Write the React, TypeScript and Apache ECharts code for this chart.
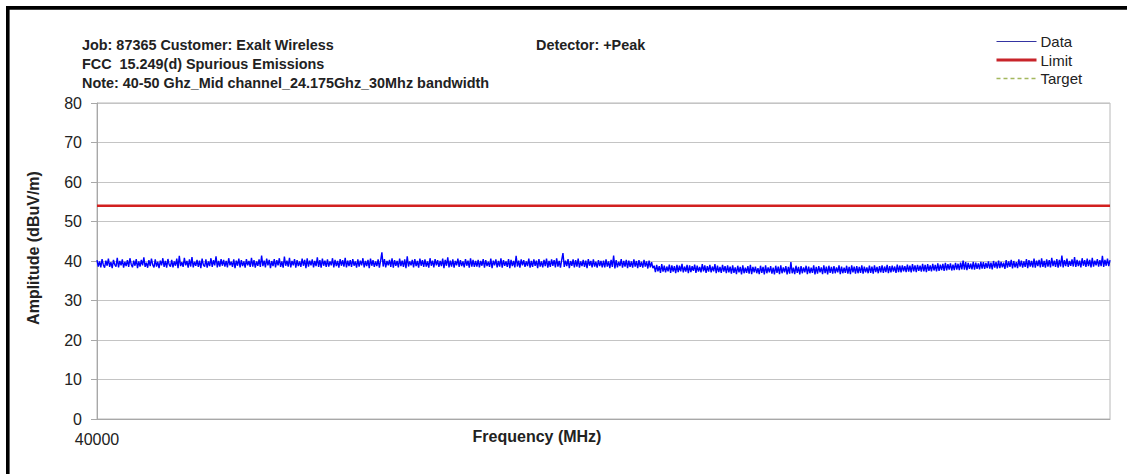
import React, { useEffect, useRef } from "react";
import * as echarts from "echarts";

// ---- Data ----
const FREQ_START = 40000; // MHz
const FREQ_STOP = 50000; // MHz
const LIMIT_LEVEL = 54; // dBuV/m

const HEADER_LINES = [
  "Job: 87365 Customer: Exalt Wireless",
  "FCC  15.249(d) Spurious Emissions",
  "Note: 40-50 Ghz_Mid channel_24.175Ghz_30Mhz bandwidth",
];
const DETECTOR_TEXT = "Detector: +Peak";
const SERIES_NAMES = ["Data", "Limit", "Target"];
const X_LABELS_SHOWN = [40000];

// Measured amplitude (dBuV/m), consecutive sweep points across 40–50 GHz
const AMP_40000_41237 = [
  40.2, 38.6, 39.9, 38.4, 40.5, 39.0, 38.3, 40.1, 38.8, 40.6, 38.5, 39.7, 38.2, 40.3, 39.1, 38.6, 40.8, 38.4, 40.0, 38.9,
  40.4, 38.3, 39.8, 38.7, 40.2, 38.5, 40.7, 39.2, 38.4, 40.1, 38.8, 40.5, 38.2, 39.9, 38.6, 40.3, 38.9, 40.9, 38.5, 39.6,
  38.3, 40.2, 38.7, 40.6, 39.0, 38.4, 40.4, 38.6, 39.8, 38.2, 40.1, 38.9, 40.7, 38.5, 40.0, 38.3, 40.5, 39.1, 38.6, 40.3,
  38.4, 39.9, 38.8, 40.6, 38.2, 41.3, 38.7, 39.7, 38.5, 40.8, 38.9, 40.0, 38.3, 40.4, 38.6, 41.0, 38.4, 39.8, 38.8, 40.3,
  38.5, 40.1, 38.2, 40.6, 39.0, 38.6, 40.4, 38.3, 39.9, 38.7, 40.7, 38.5, 40.2, 38.9, 41.2, 38.4, 40.0, 38.6, 40.5, 38.8,
];
const AMP_41250_42487 = [
  40.3, 38.6, 40.0, 38.4, 40.7, 38.9, 39.8, 38.5, 40.4, 38.2, 40.1, 38.8, 40.6, 38.4, 40.2, 38.7, 39.9, 38.3, 40.5, 38.9,
  40.0, 38.5, 40.8, 38.6, 40.2, 38.3, 39.9, 38.8, 40.4, 38.5, 41.4, 38.7, 40.1, 38.4, 40.6, 38.9, 40.3, 38.2, 40.0, 38.7,
  40.5, 38.4, 40.2, 38.9, 40.7, 38.5, 39.9, 38.3, 41.1, 38.8, 40.1, 38.6, 40.8, 38.4, 40.0, 38.9, 40.5, 38.3, 40.2, 38.7,
  39.9, 38.5, 40.6, 38.8, 40.3, 38.2, 40.7, 38.6, 40.1, 38.9, 40.4, 38.4, 40.0, 38.7, 40.9, 38.5, 40.2, 38.3, 40.6, 38.8,
  40.1, 38.5, 40.4, 38.6, 39.9, 38.9, 40.7, 38.4, 40.3, 38.7, 40.0, 38.3, 40.5, 38.8, 40.2, 38.6, 40.8, 38.4, 40.1, 38.7,
];
const AMP_42500_43737 = [
  40.2, 38.5, 40.5, 38.8, 39.9, 38.3, 40.4, 38.6, 40.1, 38.9, 40.7, 38.4, 40.0, 38.7, 40.3, 38.2, 40.6, 38.8, 40.2, 38.5,
  39.9, 38.7, 40.4, 38.3, 40.1, 42.2, 38.6, 40.5, 38.4, 40.0, 38.9, 40.3, 38.5, 40.7, 38.3, 40.2, 38.8, 40.0, 38.4, 40.6,
  38.7, 40.1, 38.5, 40.4, 38.2, 41.2, 38.6, 39.9, 38.9, 40.3, 38.4, 40.5, 38.7, 40.0, 38.3, 40.6, 38.8, 40.2, 38.5, 40.4,
  38.6, 39.9, 38.3, 40.7, 38.8, 40.1, 38.4, 40.5, 38.9, 40.2, 38.5, 40.0, 38.7, 40.6, 38.2, 40.3, 38.8, 40.9, 38.4, 40.1,
  38.6, 40.4, 38.3, 40.0, 38.9, 40.6, 38.5, 40.2, 38.7, 39.9, 38.4, 40.5, 38.8, 40.1, 38.3, 40.7, 38.6, 40.3, 38.5, 40.0,
];
const AMP_43750_44987 = [
  38.6, 40.3, 38.4, 40.0, 38.8, 40.5, 38.3, 40.2, 38.7, 39.8, 38.5, 40.6, 38.2, 40.1, 38.9, 40.4, 38.4, 40.0, 38.6, 40.7,
  38.3, 40.2, 38.8, 39.9, 38.5, 40.5, 38.2, 40.3, 38.7, 40.0, 38.4, 41.3, 38.6, 40.1, 38.3, 40.4, 38.9, 40.2, 38.5, 39.9,
  38.7, 40.6, 38.3, 40.0, 38.5, 40.4, 38.8, 40.1, 38.2, 40.5, 38.6, 39.9, 38.4, 40.3, 38.7, 40.6, 38.3, 40.0, 38.5, 40.4,
  38.8, 40.2, 38.4, 40.7, 38.6, 40.0, 38.3, 40.3, 42.0, 38.5, 40.1, 38.7, 40.5, 38.2, 40.0, 38.8, 40.4, 38.4, 40.2, 38.6,
  40.6, 38.3, 39.9, 38.7, 40.3, 38.5, 40.1, 38.2, 40.5, 38.8, 40.0, 38.4, 40.4, 38.6, 39.8, 38.3, 40.2, 38.7, 40.0, 38.4,
];
const AMP_45000_46237 = [
  40.1, 38.4, 40.4, 38.6, 39.9, 38.2, 40.3, 38.5, 41.4, 38.1, 40.2, 38.4, 39.8, 38.7, 40.5, 38.3, 40.0, 38.6, 40.3, 38.2,
  40.1, 38.5, 39.9, 38.3, 40.4, 38.6, 40.0, 38.2, 40.2, 38.5, 39.8, 38.3, 40.3, 38.6, 39.9, 38.1, 40.1, 38.4, 39.7, 38.2,
  38.8, 37.2, 39.0, 37.4, 38.7, 37.0, 39.2, 37.3, 38.8, 37.1, 38.6, 37.4, 39.1, 37.0, 38.9, 37.3, 38.7, 36.9, 39.0, 37.2,
  38.8, 37.4, 39.3, 37.1, 38.6, 37.3, 39.0, 36.9, 38.9, 37.2, 38.7, 37.5, 39.1, 37.0, 38.8, 37.3, 38.5, 37.1, 39.2, 37.4,
  38.9, 37.0, 38.7, 37.3, 39.0, 37.1, 38.6, 37.4, 39.2, 36.9, 38.8, 37.2, 38.5, 37.0, 39.0, 37.3, 38.7, 36.9, 38.9, 37.1,
];
const AMP_46250_47487 = [
  38.6, 36.8, 38.9, 37.0, 38.4, 36.7, 38.8, 37.1, 38.5, 36.6, 38.9, 36.9, 38.3, 37.0, 38.7, 36.8, 39.0, 36.7, 38.5, 37.1,
  38.6, 36.9, 38.2, 36.7, 38.8, 37.0, 38.5, 36.6, 38.9, 36.9, 38.4, 37.1, 38.7, 36.8, 38.3, 36.6, 38.8, 37.0, 38.6, 36.7,
  38.9, 36.9, 38.4, 37.1, 38.7, 36.6, 38.5, 36.8, 39.7, 36.9, 38.3, 36.7, 38.8, 37.0, 38.5, 36.6, 38.7, 36.9, 38.4, 37.1,
  38.8, 36.7, 38.6, 36.9, 38.3, 37.0, 38.9, 36.6, 38.5, 36.8, 38.7, 37.1, 38.4, 36.7, 38.9, 36.9, 38.6, 36.6, 38.8, 37.0,
  38.5, 36.8, 38.7, 36.9, 38.4, 37.1, 38.9, 36.7, 38.6, 36.9, 38.3, 37.0, 38.8, 36.8, 38.5, 36.7, 38.9, 37.1, 38.6, 36.8,
];
const AMP_47500_48737 = [
  38.7, 36.9, 38.5, 37.0, 38.9, 36.8, 38.6, 37.1, 38.4, 36.9, 38.8, 37.0, 38.6, 36.8, 38.9, 37.2, 38.5, 36.9, 38.7, 37.1,
  38.9, 37.0, 38.6, 37.2, 39.0, 36.9, 38.7, 37.1, 38.8, 37.3, 38.6, 37.0, 39.1, 37.2, 38.8, 37.1, 38.9, 37.4, 38.7, 37.2,
  39.1, 37.3, 38.8, 37.1, 39.2, 37.4, 38.9, 37.2, 39.0, 37.5, 38.8, 37.3, 39.3, 37.4, 39.0, 37.2, 39.2, 37.5, 38.9, 37.4,
  39.3, 37.6, 39.0, 37.4, 39.4, 37.5, 39.1, 37.7, 39.3, 37.5, 39.5, 37.6, 39.2, 37.8, 39.4, 37.6, 39.1, 37.7, 39.5, 37.8,
  39.3, 37.7, 39.6, 37.9, 40.1, 37.8, 39.7, 37.7, 39.5, 38.0, 39.3, 37.9, 39.8, 37.8, 39.6, 38.0, 39.4, 37.9, 39.8, 38.1,
];
const AMP_48750_50000 = [
  39.7, 38.0, 39.5, 38.2, 39.9, 38.1, 39.6, 37.9, 40.0, 38.3, 39.7, 38.1, 40.1, 38.2, 39.8, 38.4, 39.6, 38.0, 40.2, 38.3,
  39.9, 38.5, 40.3, 38.1, 40.0, 38.4, 39.7, 38.2, 40.4, 38.6, 40.1, 38.3, 39.9, 38.5, 40.5, 38.2, 40.2, 38.6, 40.0, 38.4,
  40.6, 38.3, 40.1, 38.7, 40.3, 38.4, 40.7, 38.5, 40.0, 38.3, 40.4, 38.6, 40.2, 38.4, 40.8, 38.7, 40.1, 38.5, 40.5, 38.3,
  40.3, 38.6, 41.4, 38.4, 40.2, 38.7, 40.6, 38.5, 40.0, 38.8, 40.4, 38.6, 41.0, 38.5, 40.3, 38.7, 40.1, 38.4, 40.7, 38.8,
  40.2, 38.5, 40.6, 38.7, 40.3, 38.4, 40.8, 38.6, 40.1, 38.9, 40.5, 38.6, 40.2, 38.7, 41.3, 38.5, 40.3, 38.8, 40.6, 38.7,
  40.2,
];

const FONT = '"Liberation Sans", Arial, sans-serif';

export default function App() {
  const ref = useRef<HTMLDivElement>(null);

  useEffect(() => {
    if (!ref.current) return;
    const chart = echarts.init(ref.current, undefined, { renderer: "svg" });

    const amplitude = [
      ...AMP_40000_41237, ...AMP_41250_42487, ...AMP_42500_43737, ...AMP_43750_44987,
      ...AMP_45000_46237, ...AMP_46250_47487, ...AMP_47500_48737, ...AMP_48750_50000,
    ];
    const step = (FREQ_STOP - FREQ_START) / (amplitude.length - 1);
    const dataPoints = amplitude.map((v, i) => [FREQ_START + i * step, v]);
    const limitPoints = [
      [FREQ_START, LIMIT_LEVEL],
      [FREQ_STOP, LIMIT_LEVEL],
    ];

    const textColor = "#222";
    const hiddenSymbol = { opacity: 0 };

    chart.setOption({
      animation: false,
      backgroundColor: "#ffffff",
      title: [
        {
          text: HEADER_LINES.join("\n"),
          left: 82,
          top: 35,
          padding: 0,
          textStyle: { fontFamily: FONT, fontSize: 14.4, fontWeight: "bold", color: textColor, lineHeight: 19 },
        },
        {
          text: DETECTOR_TEXT,
          left: 536,
          top: 35,
          padding: 0,
          textStyle: { fontFamily: FONT, fontSize: 14.4, fontWeight: "bold", color: textColor, lineHeight: 19 },
        },
      ],
      legend: {
        orient: "vertical",
        left: 995,
        top: 34,
        padding: 0,
        itemWidth: 40,
        itemHeight: 14,
        itemGap: 3.5,
        textStyle: { fontFamily: FONT, fontSize: 15, color: textColor, padding: [0, 0, 0, -1] },
        data: [
          { name: SERIES_NAMES[0], itemStyle: hiddenSymbol, lineStyle: { color: "#3434a2", width: 1.2 } },
          { name: SERIES_NAMES[1], itemStyle: hiddenSymbol, lineStyle: { color: "#c8242a", width: 3 } },
          { name: SERIES_NAMES[2], itemStyle: hiddenSymbol, lineStyle: { color: "#a3b85e", width: 1.5, type: [4, 3] } },
        ],
      },
      grid: {
        left: 97,
        right: 17,
        top: 103,
        bottom: 55,
        show: true,
        borderColor: "#b8b8b8",
        borderWidth: 1,
        backgroundColor: "transparent",
      },
      xAxis: {
        type: "value",
        min: FREQ_START,
        max: FREQ_STOP,
        interval: FREQ_STOP - FREQ_START,
        axisLine: { show: true, lineStyle: { color: "#a8a8a8", width: 1 } },
        axisTick: { show: false },
        splitLine: { show: false },
        axisLabel: {
          margin: 12,
          fontFamily: FONT,
          fontSize: 16,
          color: textColor,
          formatter: (v: number) => (X_LABELS_SHOWN.includes(v) ? String(v) : ""),
        },
      },
      yAxis: {
        type: "value",
        min: 0,
        max: 80,
        interval: 10,
        axisLine: { show: true, lineStyle: { color: "#a8a8a8", width: 1 } },
        axisTick: { show: true, length: 6, lineStyle: { color: "#a8a8a8" } },
        splitLine: { show: true, lineStyle: { color: "#c4c4c4", width: 1 } },
        axisLabel: { margin: 15, fontFamily: FONT, fontSize: 16, color: textColor },
      },
      graphic: [
        { type: "rect", shape: { x: 6, y: 6, width: 1121, height: 3.8 }, style: { fill: "#000" } },
        { type: "rect", shape: { x: 6, y: 6, width: 3.6, height: 468 }, style: { fill: "#000" } },
        {
          type: "text",
          x: 33,
          y: 248,
          rotation: Math.PI / 2,
          style: {
            text: "Amplitude (dBuV/m)",
            font: `bold 16px ${FONT}`,
            fill: textColor,
            align: "center",
            verticalAlign: "middle",
          },
        },
        {
          type: "text",
          x: 537,
          y: 436,
          style: {
            text: "Frequency (MHz)",
            font: `bold 16px ${FONT}`,
            fill: textColor,
            align: "center",
            verticalAlign: "middle",
          },
        },
      ],
      series: [
        {
          name: SERIES_NAMES[0],
          type: "line",
          data: dataPoints,
          showSymbol: false,
          symbol: "none",
          lineStyle: { color: "#0000ff", width: 1.4 },
          itemStyle: { color: "#0000ff" },
          z: 3,
        },
        {
          name: SERIES_NAMES[1],
          type: "line",
          data: limitPoints,
          showSymbol: false,
          symbol: "none",
          lineStyle: { color: "#d2201f", width: 2.5 },
          itemStyle: { color: "#d2201f" },
          z: 2,
        },
        {
          name: SERIES_NAMES[2],
          type: "line",
          data: [],
          showSymbol: false,
          symbol: "none",
          lineStyle: { color: "#a3b85e", width: 1.5, type: "dashed" },
          itemStyle: { color: "#a3b85e" },
        },
      ],
    });

    return () => chart.dispose();
  }, []);

  return (
    <div
      ref={ref}
      style={{ position: "fixed", left: 0, top: 0, width: 1127, height: 474, background: "#fff" }}
    />
  );
}
